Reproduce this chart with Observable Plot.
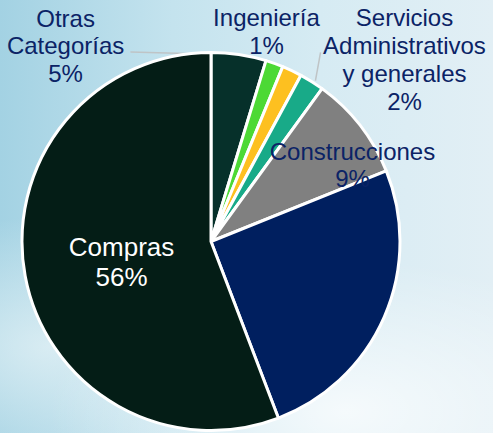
<!DOCTYPE html>
<html>
<head>
<meta charset="utf-8">
<script src="https://cdn.jsdelivr.net/npm/d3@7"></script>
<script src="https://cdn.jsdelivr.net/npm/@observablehq/plot@0.6"></script>
<style>
  html, body { margin: 0; padding: 0; width: 493px; height: 433px; overflow: hidden; }
  body {
    background:
      radial-gradient(ellipse 60% 35% at 70% 95%, rgba(255,255,255,0.75), rgba(255,255,255,0) 100%),
      radial-gradient(ellipse 45% 30% at 10% 80%, rgba(235,245,248,0.7), rgba(255,255,255,0) 100%),
      linear-gradient(to right, #a3d2e3 0%, #c4e3ee 35%, #d6ebf3 65%, #e2eff5 100%);
  }
  #chart svg { display: block; }
</style>
</head>
<body>
<div id="chart"></div>
<script>
// Data (percent shares, clockwise from 12 o'clock)
const categories = ["Otras Categorías", "Ingeniería", "Sin etiqueta (amarillo)", "Servicios Administrativos y generales", "Construcciones", "Sin etiqueta (azul)", "Compras"];
const values = [4.7, 1.5, 1.7, 2.1, 8.9, 25.3, 55.8];
const colors = ["#06302a", "#4cd935", "#fdc020", "#18aa88", "#808080", "#001f5f", "#041d16"];

// Label texts (as shown)
const labelTexts = ["Otras\nCategorías\n5%", "Ingeniería\n1%", "Servicios\nAdministrativos\ny generales\n2%", "Construcciones\n9%", "Compras\n56%"];
const labelColors = ["#0b2366", "#0b2366", "#0b2366", "#0b2366", "#ffffff"];
// Label placement (layout, unit-circle coordinates)
const labelX = [-0.772, 0.291, 1.021, 0.746, -0.476];
const labelY = [-1.040, -1.116, -0.968, -0.410, 0.103];
const labelSize = [24, 24, 24, 24, 26];
// Leader lines (layout, unit-circle coordinates)
const leaderX1 = [-0.429, 0.577];
const leaderY1 = [-1.005, -1.003];
const leaderX2 = [0.153, 0.550];
const leaderY2 = [-0.990, -0.854];

const slices = categories.map((c, i) => ({name: c, value: values[i]}));
const labels = labelTexts.map((t, i) => ({text: t, x: labelX[i], y: labelY[i], color: labelColors[i], size: labelSize[i]}));
const leaders = leaderX1.map((_, i) => ({x1: leaderX1[i], y1: leaderY1[i], x2: leaderX2[i], y2: leaderY2[i]}));

// Pie slices drawn through Plot's x/y/color scales
function pieMark(index, scales) {
  const cx = scales.x(0), cy = scales.y(0);
  const r = Math.abs(scales.x(1) - scales.x(0));
  const arcs = d3.pie().sort(null).value(d => d.value)(slices);
  const arc = d3.arc().innerRadius(0).outerRadius(r);
  const g = d3.create("svg:g").attr("transform", `translate(${cx},${cy})`);
  g.selectAll("path")
    .data(arcs)
    .join("path")
    .attr("d", arc)
    .attr("fill", d => scales.color(d.data.name))
    .attr("stroke", "#ffffff")
    .attr("stroke-width", 3)
    .attr("stroke-linejoin", "round");
  return g.node();
}

const chart = Plot.plot({
  width: 493,
  height: 433,
  margin: 0,
  style: {background: "transparent", fontFamily: "'Liberation Sans', Arial, sans-serif"},
  x: {domain: [-1, 1], range: [22, 400], axis: null},
  y: {domain: [-1, 1], range: [52.5, 430.5], axis: null},
  color: {type: "ordinal", domain: categories, range: colors},
  marks: [
    Plot.link(leaders, {x1: "x1", y1: "y1", x2: "x2", y2: "y2", stroke: "#bfc4c6", strokeWidth: 1.5}),
    pieMark,
    Plot.text(labels.filter(d => d.size === 24), {x: "x", y: "y", text: "text", fill: "color", fontSize: 24, lineHeight: 1.16, lineAnchor: "middle", textAnchor: "middle"}),
    Plot.text(labels.filter(d => d.size === 26), {x: "x", y: "y", text: "text", fill: "color", fontSize: 26, lineHeight: 1.15, lineAnchor: "middle", textAnchor: "middle"})
  ]
});
document.getElementById("chart").appendChild(chart);
</script>
</body>
</html>
